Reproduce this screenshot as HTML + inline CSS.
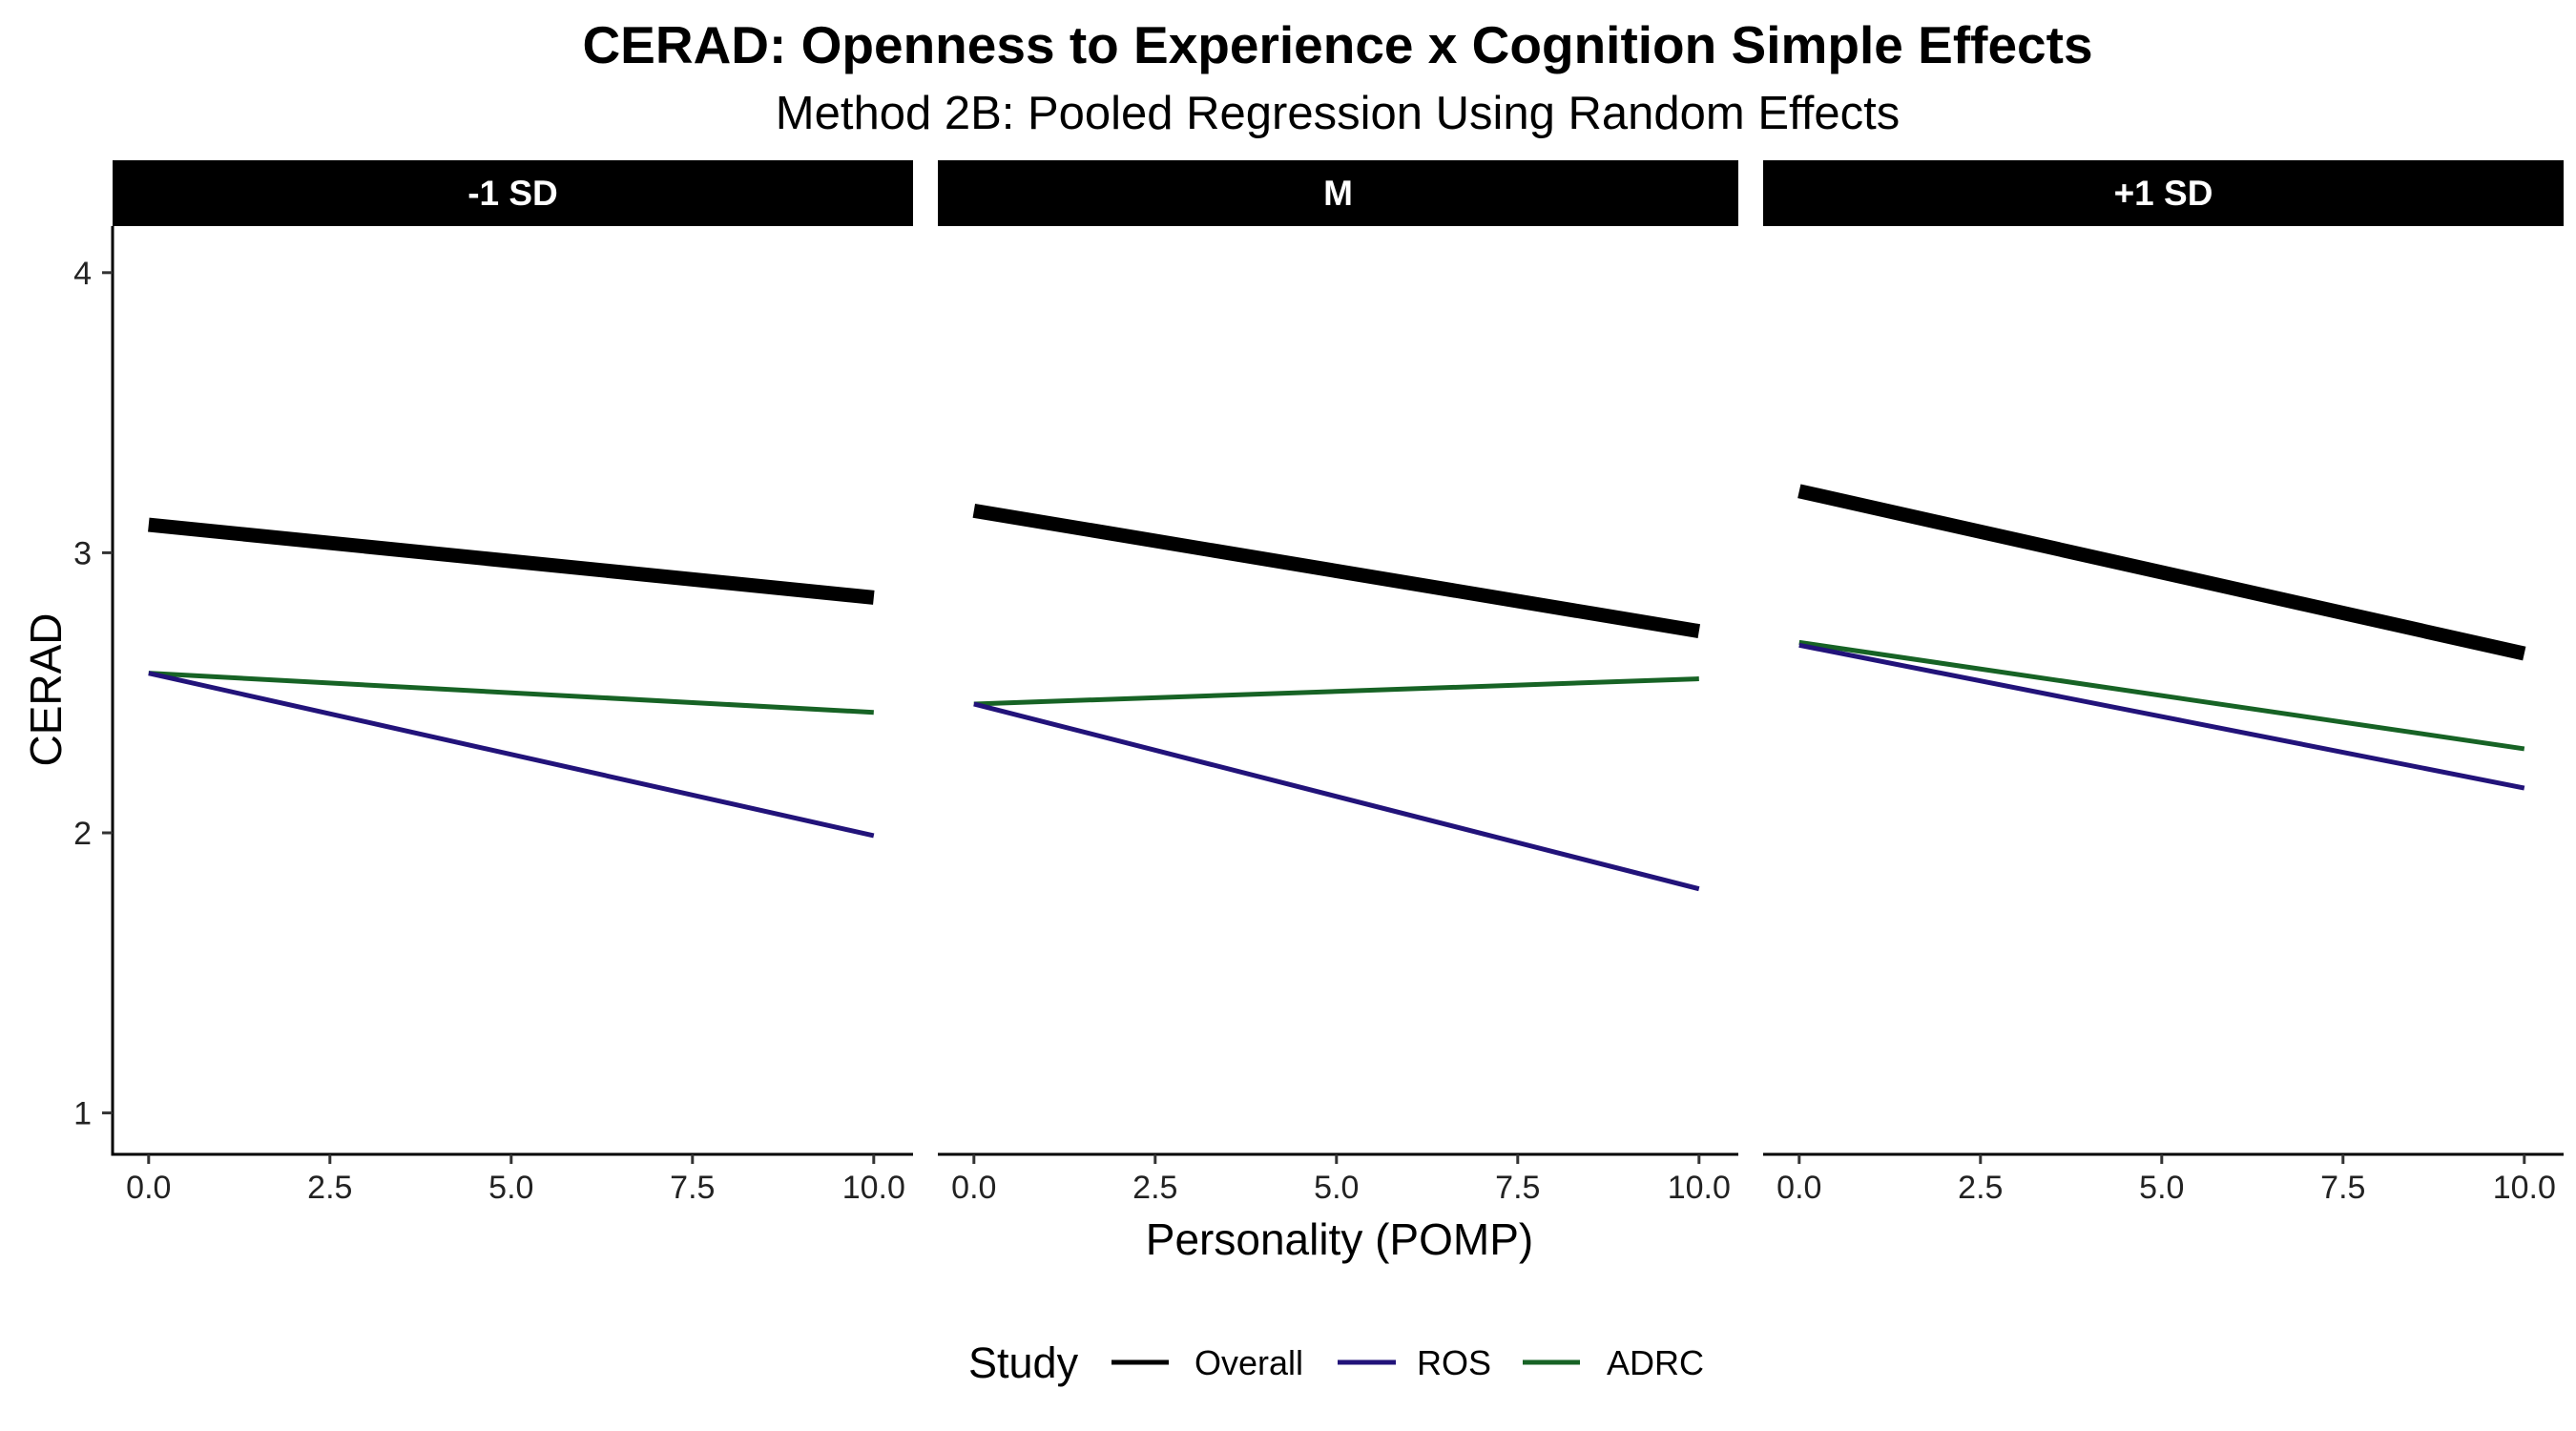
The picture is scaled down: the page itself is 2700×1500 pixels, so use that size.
<!DOCTYPE html>
<html><head><meta charset="utf-8"><style>
body{margin:0;background:#fff;}
svg{display:block;font-family:"Liberation Sans",Arial,sans-serif;}
</style></head><body>
<svg id="chart" width="2700" height="1500" viewBox="0 0 2700 1500" xmlns="http://www.w3.org/2000/svg">
<rect width="2700" height="1500" fill="#fff"/>
<text x="1402" y="66" font-size="55" font-weight="bold" text-anchor="middle">CERAD: Openness to Experience x Cognition Simple Effects</text>
<text x="1402" y="135" font-size="49" text-anchor="middle">Method 2B: Pooled Regression Using Random Effects</text>
<text transform="translate(64,723) rotate(-90)" font-size="46" text-anchor="middle">CERAD</text>
<text x="1404" y="1315" font-size="46" text-anchor="middle">Personality (POMP)</text>
<g id="panels"></g>
<g>
<text x="1015" y="1444" font-size="45">Study</text>
<line x1="1165" y1="1428" x2="1225" y2="1428" stroke="#000" stroke-width="5"/>
<text x="1252" y="1441" font-size="36">Overall</text>
<line x1="1402" y1="1428" x2="1463" y2="1428" stroke="#22137a" stroke-width="5"/>
<text x="1485" y="1441" font-size="36">ROS</text>
<line x1="1596" y1="1428" x2="1656" y2="1428" stroke="#176325" stroke-width="5"/>
<text x="1684" y="1441" font-size="36">ADRC</text>
</g>
</svg>
<script>
const panels = ["-1 SD", "M", "+1 SD"];
const xTicks = [0, 2.5, 5, 7.5, 10];
const xTickLabels = ["0.0", "2.5", "5.0", "7.5", "10.0"];
const yTicks = [1, 2, 3, 4];
const xEnds = [0, 10];
const overallStart = [3.10, 3.15, 3.22];
const overallEnd = [2.84, 2.72, 2.64];
const rosStart = [2.57, 2.46, 2.67];
const rosEnd = [1.99, 1.80, 2.16];
const adrcStart = [2.57, 2.46, 2.68];
const adrcEnd = [2.43, 2.55, 2.30];

const NS = "http://www.w3.org/2000/svg";
const g = document.getElementById("panels");
const panelLeft = [118, 983, 1848];
const panelW = 839;
function yScale(v){ return 1166.6 - (v - 1) * 293.6; }
function xScale(p, v){ return panelLeft[p] + 37.8 + v * 76.0; }
function mk(tag, attrs){ const e = document.createElementNS(NS, tag); for (const k in attrs) e.setAttribute(k, attrs[k]); return e; }

panels.forEach((name, p) => {
  const strip = mk("rect", {x: panelLeft[p], y: 168, width: panelW, height: 69, fill: "#000"});
  
  
  g.appendChild(strip);
  const st = mk("text", {x: panelLeft[p] + panelW / 2, y: 215, "font-size": 37, "font-weight": "bold", fill: "#fff", "text-anchor": "middle"});
  st.textContent = name;
  
  
  g.appendChild(st);
  const xa = mk("line", {x1: panelLeft[p], y1: 1210, x2: panelLeft[p] + panelW, y2: 1210, stroke: "#000", "stroke-width": 3});
  
  
  g.appendChild(xa);
  xTicks.forEach((t, i) => {
    const x = xScale(p, t);
    const tk = mk("line", {x1: x, y1: 1210, x2: x, y2: 1220, stroke: "#333", "stroke-width": 3});
    
    
    g.appendChild(tk);
    const tl = mk("text", {x: x, y: 1256, "font-size": 34, fill: "#222", "text-anchor": "middle"});
    tl.textContent = xTickLabels[i];
    
    
    g.appendChild(tl);
  });
  const series = [
    [overallStart, overallEnd, "#000", 15, "overall-line"],
    [rosStart, rosEnd, "#22137a", 5, "ros-line"],
    [adrcStart, adrcEnd, "#176325", 5, "adrc-line"]
  ];
  series.slice().reverse().forEach(s => {
    const ln = mk("line", {x1: xScale(p, xEnds[0]), y1: yScale(s[0][p]), x2: xScale(p, xEnds[1]), y2: yScale(s[1][p]), stroke: s[2], "stroke-width": s[3]});
    
    
    g.appendChild(ln);
  });
});
const ya = mk("line", {x1: 118, y1: 237, x2: 118, y2: 1211.5, stroke: "#000", "stroke-width": 3});


g.appendChild(ya);
yTicks.forEach(t => {
  const y = yScale(t);
  const tk = mk("line", {x1: 107, y1: y, x2: 118, y2: y, stroke: "#333", "stroke-width": 3});
  
  
  g.appendChild(tk);
  const tl = mk("text", {x: 96, y: y + 12, "font-size": 34, fill: "#222", "text-anchor": "end"});
  tl.textContent = String(t);
  
  
  g.appendChild(tl);
});
</script>
</body></html>
